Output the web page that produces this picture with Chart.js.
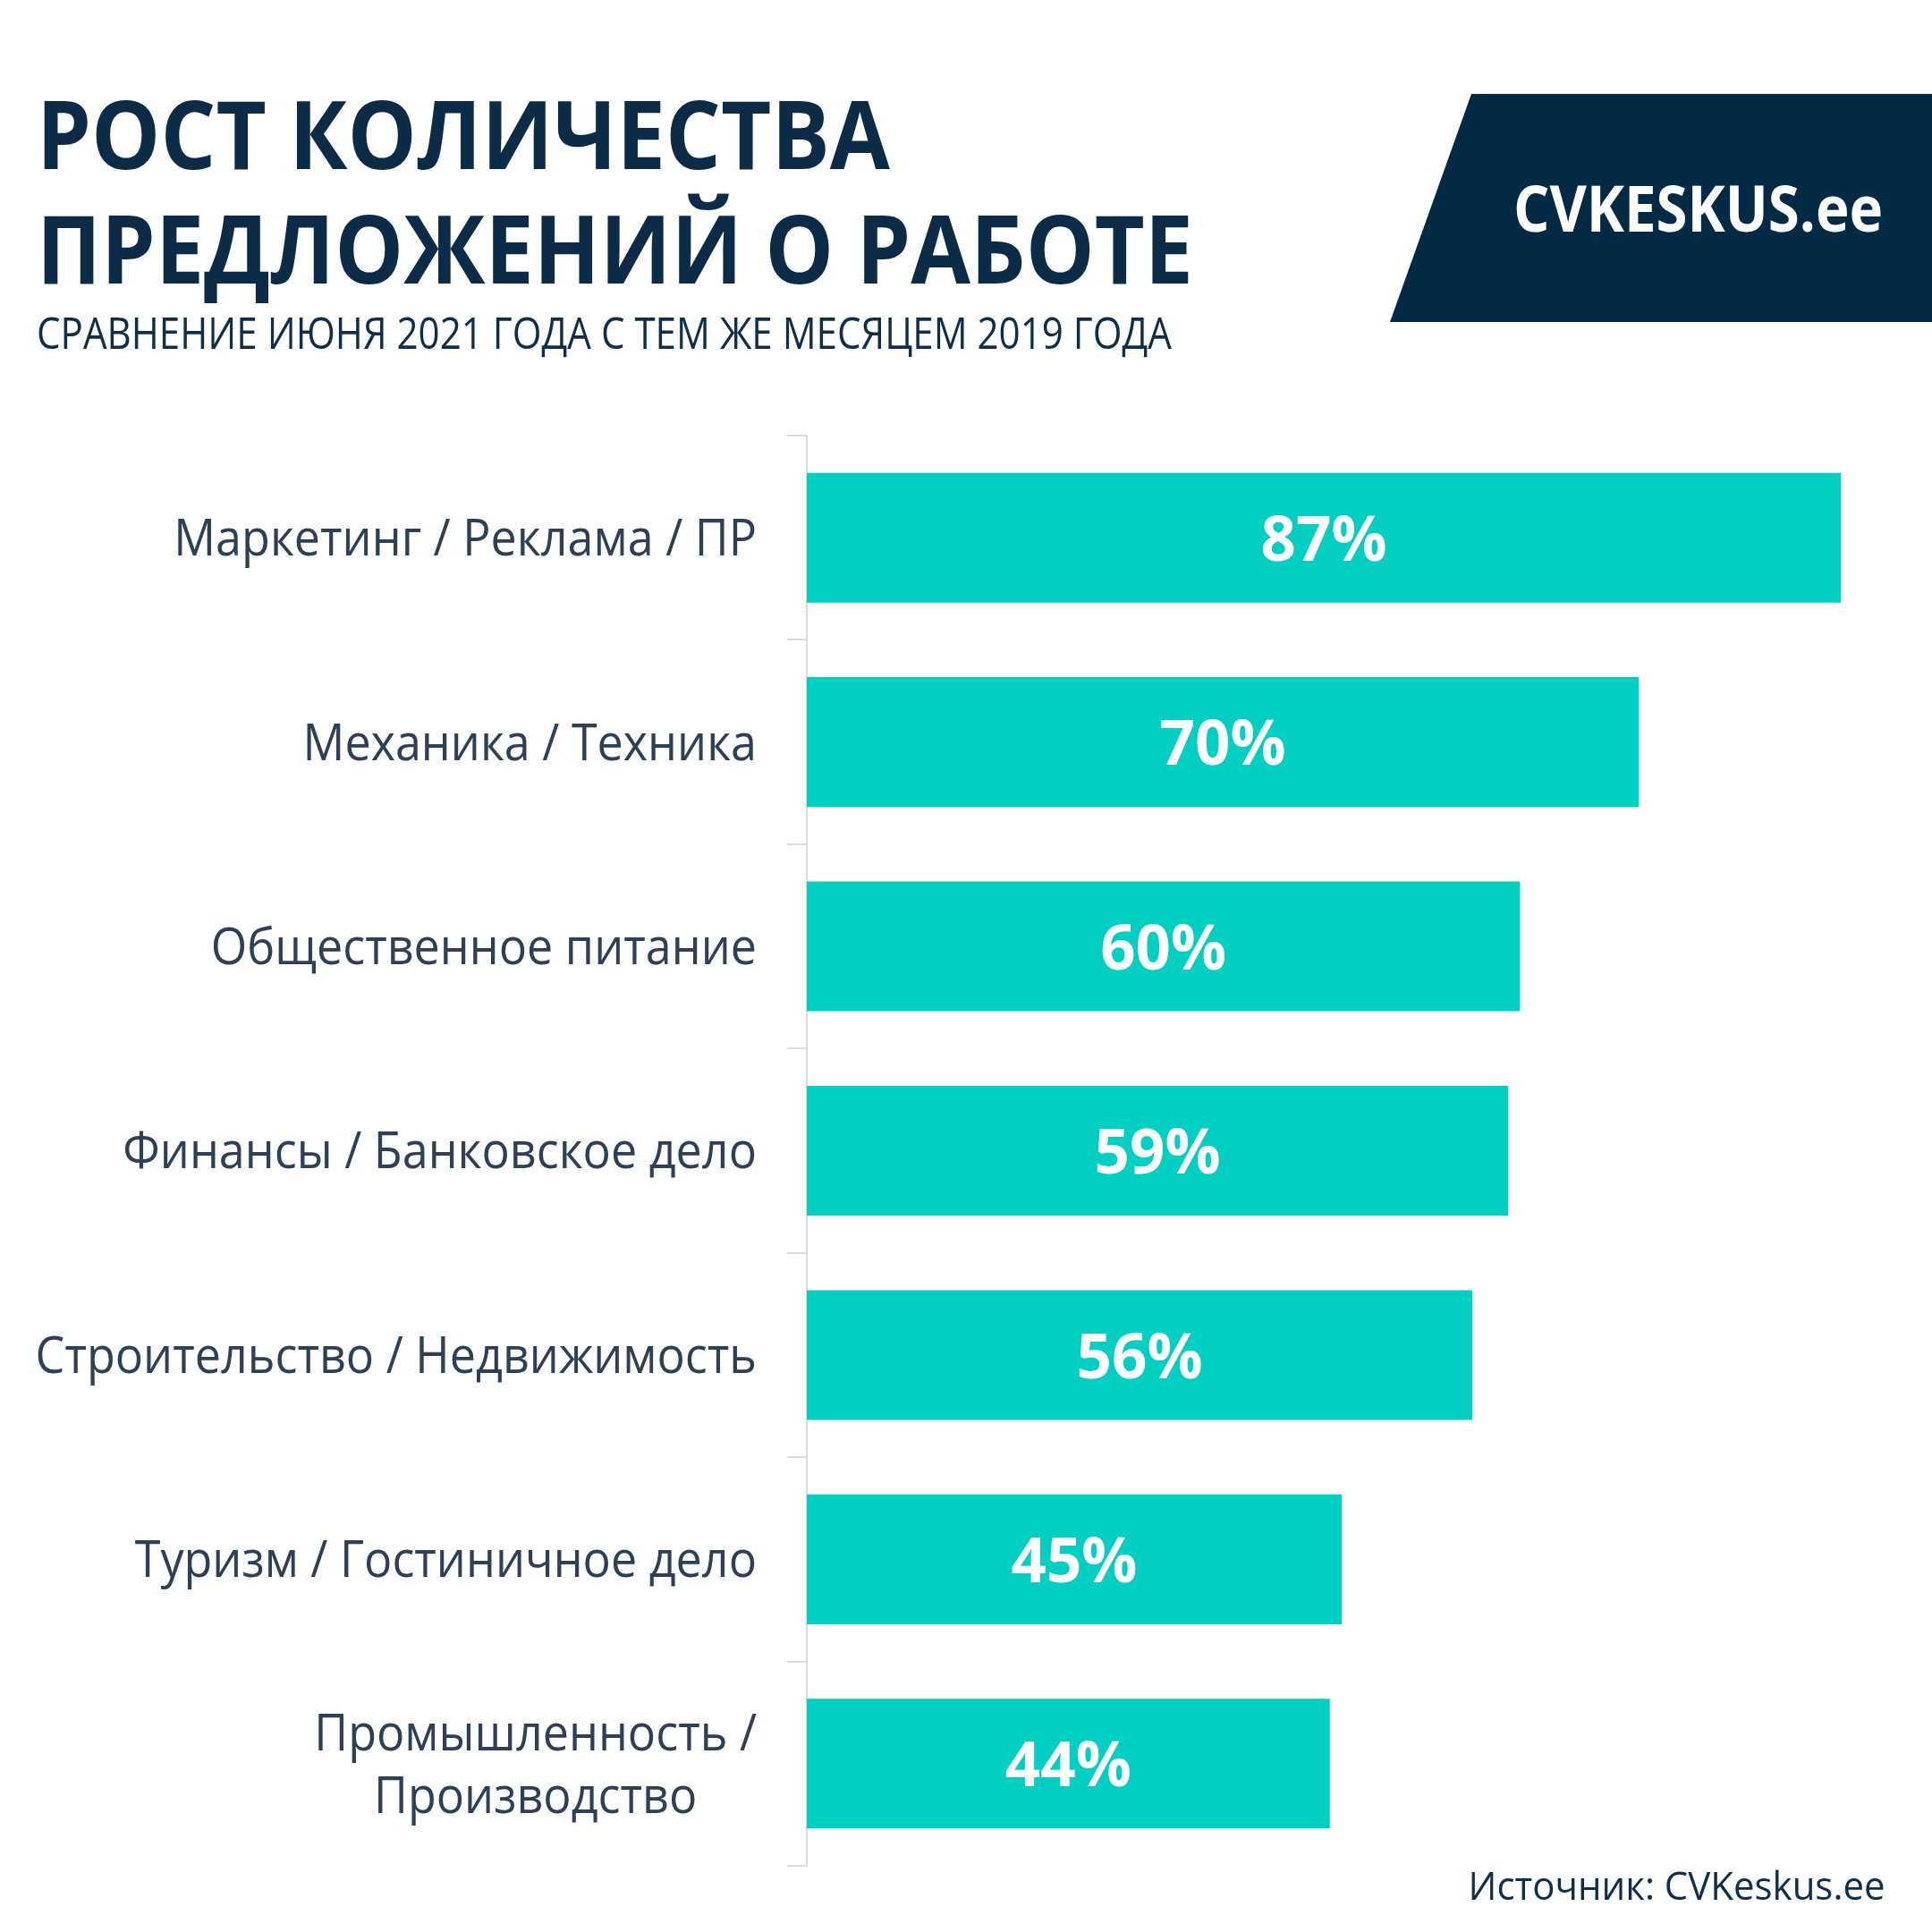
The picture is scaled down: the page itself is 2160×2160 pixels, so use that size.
<!DOCTYPE html>
<html lang="ru">
<head>
<meta charset="utf-8">
<title>Рост количества предложений о работе</title>
<script src="https://cdn.jsdelivr.net/npm/chart.js@4.4.1/dist/chart.umd.min.js"></script>
<style>
  html, body { margin: 0; padding: 0; background: #ffffff; }
  #page { position: relative; width: 2160px; height: 2160px; overflow: hidden; background: #fff; }
  #chart-box { position: absolute; left: 0; top: 0; width: 2160px; height: 2160px; }
  .txt { position: absolute; white-space: nowrap; line-height: 1; font-family: "Open Sans", sans-serif; }
  .txt span { display: inline-block; transform-origin: left center; }
  .title { color: #0b2b46; font-weight: 700; font-size: 106px; left: 41px; }
  .subtitle { color: #0f2e48; font-weight: 400; font-size: 50px; left: 41px; top: 346px; }
  #logo { position: absolute; left: 1554px; top: 105px; width: 606px; height: 255px; background: #022a44;
          clip-path: polygon(91px 0, 100% 0, 100% 100%, 0 100%); }
  .logo-text { color: #ffffff; font-weight: 700; font-size: 72px; left: 1692px; top: 195px; }
  .source { color: #0f2e48; font-weight: 400; font-size: 44px; right: 52px; top: 2085px; }
  .source span { transform-origin: right center; }
</style>
</head>
<body>
<div id="page">
  <div id="chart-box"><canvas id="chart" width="2160" height="2160"></canvas></div>
  <div class="txt title" style="top:95px"><span data-w="954">РОСТ КОЛИЧЕСТВА</span></div>
  <div class="txt title" style="top:223px"><span data-w="1293">ПРЕДЛОЖЕНИЙ О РАБОТЕ</span></div>
  <div class="txt subtitle"><span data-w="1269">СРАВНЕНИЕ ИЮНЯ 2021 ГОДА С ТЕМ ЖЕ МЕСЯЦЕМ 2019 ГОДА</span></div>
  <div id="logo"></div>
  <div class="txt logo-text"><span data-w="413">CVKESKUS.ee</span></div>
  <div class="txt source"><span data-w="466">Источник: CVKeskus.ee</span></div>
</div>
<script>
// categories (multi-line label as array)
const categories = [
  "Маркетинг / Реклама / ПР",
  "Механика / Техника",
  "Общественное питание",
  "Финансы / Банковское дело",
  "Строительство / Недвижимость",
  "Туризм / Гостиничное дело",
  ["Промышленность /", "Производство"]
];
// growth in %, June 2021 vs June 2019
const growth = [87, 70, 60, 59, 56, 45, 44];

const barColor = "#00cfc2";
const labelColor = "#2d4055";
const axisColor = "#dcdcdc";

// squeeze text horizontally to the widths of the original layout
function fitText() {
  document.querySelectorAll(".txt span[data-w]").forEach((el) => {
    const target = parseFloat(el.dataset.w);
    const w = el.getBoundingClientRect().width;
    if (w > 0) el.style.transform = "scaleX(" + (target / w) + ")";
  });
}

// category names drawn left of the axis, lines centered inside each block
const categoryLabels = {
  id: "categoryLabels",
  afterDraw(chart) {
    const ctx = chart.ctx;
    const y = chart.scales.y;
    const right = y.right - 56;
    const squeeze = 0.93;
    ctx.save();
    ctx.fillStyle = labelColor;
    ctx.font = "400 56px 'Open Sans'";
    ctx.textBaseline = "middle";
    ctx.textAlign = "center";
    categories.forEach((label, i) => {
      const lines = Array.isArray(label) ? label : [label];
      const widest = Math.max(...lines.map((l) => ctx.measureText(l).width)) * squeeze;
      const cx = right - widest / 2;
      const cy = y.getPixelForTick(i) + 4;
      const lh = 70;
      lines.forEach((line, k) => {
        const ly = cy + (k - (lines.length - 1) / 2) * lh;
        ctx.save();
        ctx.translate(cx, ly);
        ctx.scale(squeeze, 1);
        ctx.fillText(line, 0, 0);
        ctx.restore();
      });
    });
    ctx.restore();
  }
};

// percent values centred on each bar
const valueLabels = {
  id: "valueLabels",
  afterDatasetsDraw(chart) {
    const ctx = chart.ctx;
    const meta = chart.getDatasetMeta(0);
    ctx.save();
    ctx.fillStyle = "#ffffff";
    ctx.font = "700 69px 'Open Sans'";
    ctx.textAlign = "center";
    ctx.textBaseline = "middle";
    meta.data.forEach((bar, i) => {
      const cx = (bar.x + bar.base) / 2;
      ctx.fillText(growth[i] + "%", cx, bar.y + 6);
    });
    ctx.restore();
  }
};

function drawChart() {
  const ctx = document.getElementById("chart").getContext("2d");
  new Chart(ctx, {
    type: "bar",
    data: {
      labels: categories,
      datasets: [
        {
          label: "Рост, %",
          data: growth,
          backgroundColor: barColor,
          borderWidth: 0,
          barPercentage: 0.635,
          categoryPercentage: 1
        }
      ]
    },
    options: {
      indexAxis: "y",
      responsive: false,
      animation: false,
      layout: {
        padding: { left: 42, top: 487, bottom: 74, right: 62 }
      },
      plugins: {
        legend: { display: false },
        tooltip: { enabled: false },
        title: { display: false }
      },
      scales: {
        x: {
          display: false,
          min: 0,
          max: 90
        },
        y: {
          grid: {
            display: true,
            offset: true,
            drawOnChartArea: false,
            drawTicks: true,
            tickLength: 22,
            color: axisColor,
            lineWidth: 2
          },
          border: { display: true, color: axisColor, width: 2 },
          ticks: { display: false },
          afterFit(scale) {
            scale.width = 860;
          }
        }
      }
    },
    plugins: [valueLabels, categoryLabels]
  });
}

document.addEventListener("DOMContentLoaded", function () {
  const go = () => { fitText(); drawChart(); };
  if (document.fonts && document.fonts.ready) {
    document.fonts.load("700 69px 'Open Sans'").then(() => document.fonts.load("400 56px 'Open Sans'")).then(go, go);
  } else {
    go();
  }
});
</script>
</body>
</html>
